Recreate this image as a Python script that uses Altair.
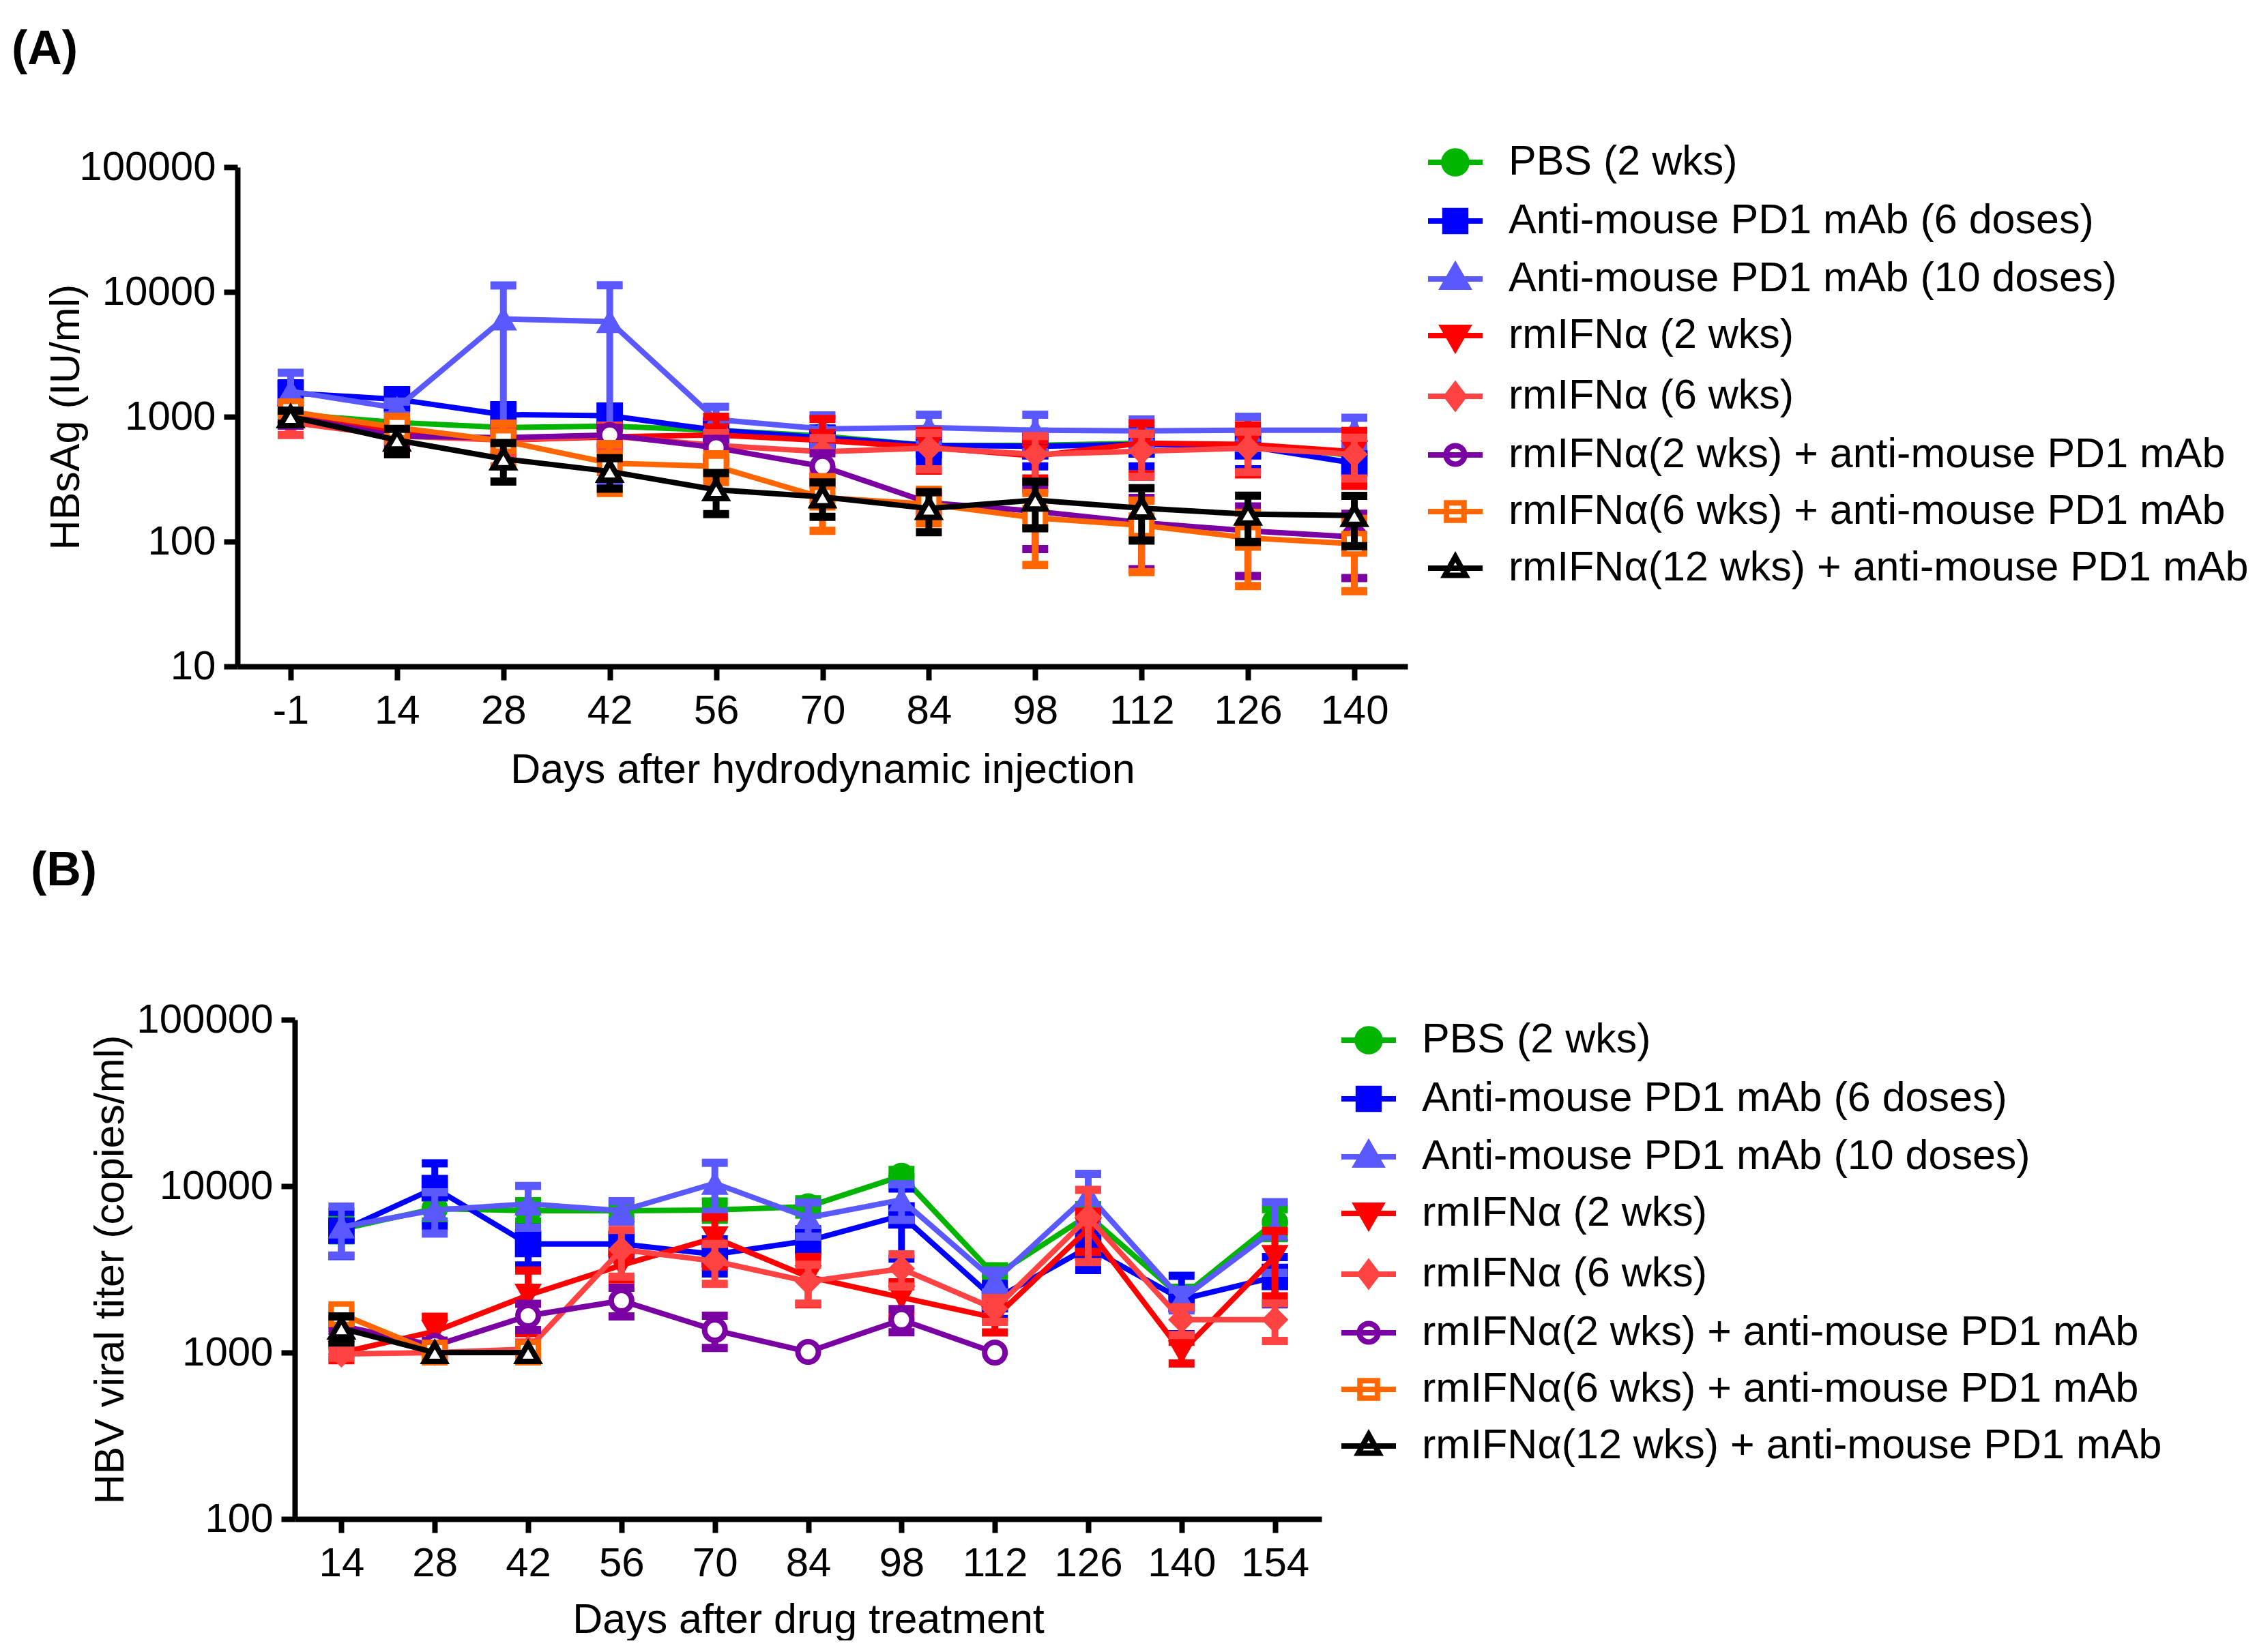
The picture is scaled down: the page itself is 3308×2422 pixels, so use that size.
import altair as alt
import pandas as pd

FONT = "Liberation Sans"

GROUPS = [
    "PBS (2 wks)",
    "Anti-mouse PD1 mAb (6 doses)",
    "Anti-mouse PD1 mAb (10 doses)",
    "rmIFNα (2 wks)",
    "rmIFNα (6 wks)",
    "rmIFNα(2 wks) + anti-mouse PD1 mAb",
    "rmIFNα(6 wks) + anti-mouse PD1 mAb",
    "rmIFNα(12 wks) + anti-mouse PD1 mAb",
]
COLORS = ["#00B400", "#0000FF", "#5959FF", "#FF0000", "#FF4343", "#7A00A3", "#FF6600", "#000000"]
FILLS = ["#00B400", "#0000FF", "#5959FF", "#FF0000", "#FF4343", "#FFFFFF", "#FFFFFF", "#FFFFFF"]
SHAPES = ["circle", "square", "triangle-up", "triangle-down", "diamond", "circle", "square", "triangle-up"]
HOLLOW = [False, False, False, False, False, True, True, True]
LEGEND_PATHS = [
    "M-1,0H1M0.42,0A0.42,0.42,0,1,1,-0.42,0A0.42,0.42,0,1,1,0.42,0Z",
    "M-1,0H1M-0.38,-0.38H0.38V0.38H-0.38Z",
    "M-1,0H1M0,-0.48L0.45,0.3H-0.45Z",
    "M-1,0H1M0,0.48L0.45,-0.3H-0.45Z",
    "M-1,0H1M0,-0.42L0.32,0L0,0.42L-0.32,0Z",
    "M-1,0H1M0.34,0A0.34,0.34,0,1,1,-0.34,0A0.34,0.34,0,1,1,0.34,0Z",
    "M-1,0H1M-0.32,-0.32H0.32V0.32H-0.32Z",
    "M-1,0H1M0,-0.42L0.38,0.26H-0.38Z",
]

# ---------------- Panel A: HBsAg (IU/ml) ----------------
DAYS_A = [-1, 14, 28, 42, 56, 70, 84, 98, 112, 126, 140]
A_PBS = [1050, 900, 820, 840, 780, 700, 590, 590, 615, 590, 490]
A_PBS_SEM = [150, 80, 80, 80, 80, 80, 60, 60, 60, 60, 60]
A_PD1_6 = [1550, 1380, 1040, 1020, 780, 680, 590, 580, 600, 580, 425]
A_PD1_6_SEM = [300, 185, 200, 180, 120, 100, 150, 180, 200, 200, 125]
A_PD1_10 = [1600, 1175, 6080, 5790, 950, 800, 820, 780, 770, 780, 780]
A_PD1_10_SEM = [650, 150, 5200, 5500, 250, 225, 220, 260, 180, 220, 200]
A_IFN2 = [1000, 750, 650, 690, 715, 645, 570, 485, 615, 600, 525]
A_IFN2_SEM = [150, 150, 150, 120, 285, 315, 200, 165, 270, 255, 245]
A_IFN6 = [900, 700, 650, 700, 590, 525, 560, 500, 530, 560, 500]
A_IFN6_SEM = [185, 200, 150, 150, 150, 150, 180, 200, 200, 200, 180]
A_IFN2_PD1 = [1000, 700, 680, 715, 565, 400, 205, 175, 142, 122, 109]
A_IFN2_PD1_SEM = [150, 100, 80, 100, 100, 110, 40, 88, 82, 69, 58]
A_IFN6_PD1 = [1100, 820, 640, 425, 400, 225, 200, 155, 135, 107, 96]
A_IFN6_PD1_SEM = [200, 180, 240, 180, 100, 103, 60, 90, 78, 63, 56]
A_IFN12_PD1 = [1000, 650, 460, 365, 260, 228, 184, 215, 185, 166, 162]
A_IFN12_PD1_SEM = [120, 150, 157, 100, 94, 70, 65, 87, 83, 67, 70]

# ---------------- Panel B: HBV viral titer (copies/ml) ----------------
DAYS_B = [14, 28, 42, 56, 70, 84, 98, 112, 126, 140, 154]
B_PBS = [5520, 7330, 7120, 7120, 7190, 7540, 11500, 2900, 6670, 2150, 6070]
B_PBS_SEM = [800, 1200, 1000, 800, 900, 800, 1000, 400, 1000, 300, 1200]
B_PD1_6 = [5400, 9730, 4490, 4490, 3890, 4700, 6670, 2090, 4280, 2090, 2850]
B_PD1_6_SEM = [1600, 4000, 1150, 800, 900, 800, 3000, 500, 1150, 800, 900]
B_PD1_10 = [5680, 7190, 7820, 7120, 10400, 6470, 8270, 2700, 8850, 2090, 5520]
B_PD1_10_SEM = [1850, 2000, 2200, 1000, 3400, 1500, 2000, 400, 3000, 300, 2500]
B_IFN2 = [1000, 1340, 2210, 3350, 4890, 2850, 2145, 1620, 5520, 1010, 3780]
B_IFN2_SEM = [100, 300, 900, 600, 1600, 900, 500, 300, 1500, 150, 1600]
B_IFN6 = [980, 1000, 1050, 4160, 3540, 2670, 3190, 1830, 6500, 1575, 1575]
B_IFN6_SEM = [50, 50, 100, 1300, 950, 700, 700, 300, 3000, 300, 400]
B_IFN2_PD1 = [1450, 1100, 1665, 2050, 1365, 1010, 1575, 1000, None, None, None]
B_IFN2_PD1_SEM = [100, 80, 300, 400, 300, 0, 250, 0, None, None, None]
B_IFN6_PD1 = [1700, 1000, 1000, None, None, None, None, None, None, None, None]
B_IFN6_PD1_SEM = [150, 50, 50, None, None, None, None, None, None, None, None]
B_IFN12_PD1 = [1400, 1000, 1000, None, None, None, None, None, None, None, None]
B_IFN12_PD1_SEM = [250, 0, 0, None, None, None, None, None, None, None, None]

A_SERIES = [(A_PBS, A_PBS_SEM), (A_PD1_6, A_PD1_6_SEM), (A_PD1_10, A_PD1_10_SEM),
            (A_IFN2, A_IFN2_SEM), (A_IFN6, A_IFN6_SEM), (A_IFN2_PD1, A_IFN2_PD1_SEM),
            (A_IFN6_PD1, A_IFN6_PD1_SEM), (A_IFN12_PD1, A_IFN12_PD1_SEM)]
B_SERIES = [(B_PBS, B_PBS_SEM), (B_PD1_6, B_PD1_6_SEM), (B_PD1_10, B_PD1_10_SEM),
            (B_IFN2, B_IFN2_SEM), (B_IFN6, B_IFN6_SEM), (B_IFN2_PD1, B_IFN2_PD1_SEM),
            (B_IFN6_PD1, B_IFN6_PD1_SEM), (B_IFN12_PD1, B_IFN12_PD1_SEM)]


def long_table(days, series):
    rows = []
    for gi, (means, sems) in enumerate(series):
        for d, m, s in zip(days, means, sems):
            if m is None:
                continue
            rows.append({"group": GROUPS[gi], "gi": gi, "day": d, "mean": m,
                         "sem": s, "lo": m - s, "hi": m + s})
    return pd.DataFrame(rows)


def panel(df, days, ydomain, yticks, width, height, ytitle, xtitle, label,
          title_dx, title_offset, legend_x, legend_y, ytitle_pad, xlabel_pad, xtitle_pad,
          left_shift):
    xaxis = alt.Axis(title=xtitle, labelAngle=0, labelFontSize=60, titleFontSize=61,
                     tickSize=20, tickWidth=8, domainWidth=8, labelPadding=xlabel_pad,
                     titlePadding=xtitle_pad, titleFontWeight="normal", labelColor="black",
                     titleColor="black", domainColor="black", tickColor="black", grid=False,
                     labelLimit=500)
    yaxis = alt.Axis(title=ytitle, values=yticks, format="d", labelFontSize=60,
                     titleFontSize=61, tickSize=20, tickWidth=8, domainWidth=8,
                     labelPadding=12, titlePadding=ytitle_pad, titleFontWeight="normal",
                     labelColor="black", titleColor="black", domainColor="black",
                     tickColor="black", grid=False, labelLimit=500, offset=-left_shift)
    total_w = width + left_shift
    xs = alt.Scale(type="point", padding=0.5, domain=days, range=[left_shift, total_w])
    ys = alt.Scale(type="log", domain=ydomain)
    X = alt.X("day:O", scale=xs, axis=xaxis, sort=days)

    base = alt.Chart(df)
    layers = []
    for gi in range(len(GROUPS)):
        sub = base.transform_filter(alt.datum.gi == gi)
        err = sub.transform_filter(alt.datum.sem > 0)
        stem = err.mark_rule(strokeWidth=10, color=COLORS[gi]).encode(
            x=X, y=alt.Y("lo:Q", scale=ys, axis=yaxis), y2="hi:Q")
        caps = err.transform_fold(["lo", "hi"], as_=["end", "val"]).mark_tick(
            color=COLORS[gi], thickness=12, size=38, opacity=1).encode(
            x=X, y=alt.Y("val:Q", scale=ys, axis=yaxis))
        line = sub.mark_line(strokeWidth=8, color=COLORS[gi]).encode(
            x=X, y=alt.Y("mean:Q", scale=ys, axis=yaxis))
        if HOLLOW[gi]:
            pt = sub.mark_point(shape=SHAPES[gi], filled=True, fill="white", stroke=COLORS[gi],
                                strokeWidth=8, size=900, opacity=1)
        else:
            pt = sub.mark_point(shape=SHAPES[gi], filled=True, fill=COLORS[gi], stroke=COLORS[gi],
                                strokeWidth=2, size=1350, opacity=1)
        pts = pt.encode(x=X, y=alt.Y("mean:Q", scale=ys, axis=yaxis))
        layers += [stem, caps, line, pts]

    leg = alt.Legend(title=None, orient="none", legendX=legend_x + left_shift, legendY=legend_y,
                     labelFontSize=61, labelFont=FONT, labelColor="black", labelLimit=0,
                     symbolSize=6400, symbolStrokeWidth=8, labelOffset=34, rowPadding=9,
                     padding=0, symbolOpacity=1)
    legend_layer = base.transform_filter(alt.datum.gi < 0).mark_point(
        filled=True, size=6400, strokeWidth=8, opacity=1).encode(
        x=X, y=alt.Y("mean:Q", scale=ys, axis=yaxis),
        shape=alt.Shape("group:N", scale=alt.Scale(domain=GROUPS, range=LEGEND_PATHS), legend=leg),
        stroke=alt.Stroke("group:N", scale=alt.Scale(domain=GROUPS, range=COLORS), legend=leg),
        fill=alt.Fill("group:N", scale=alt.Scale(domain=GROUPS, range=FILLS), legend=leg),
    )
    layers.append(legend_layer)

    return alt.layer(*layers).properties(
        width=total_w, height=height,
        title=alt.TitleParams(text=label, anchor="start", frame="group", dx=title_dx,
                              offset=title_offset, fontSize=70, fontWeight="bold",
                              font=FONT, color="black"),
    )


dfA = long_table(DAYS_A, A_SERIES)
dfB = long_table(DAYS_B, B_SERIES)

chartA = panel(dfA, DAYS_A, [10, 100000], [10, 100, 1000, 10000, 100000], 1715, 732,
               "HBsAg (IU/ml)", "Days after hydrodynamic injection", "(A)",
               -331, 85, 1741, -51, 20, 16, 27, 0)
chartB = panel(dfB, DAYS_B, [100, 100000], [100, 1000, 10000, 100000], 1505, 732,
               "HBV viral titer (copies/ml)", "Days after drug treatment", "(B)",
               -303, 152, 1530, -14, 39, 16, 23, 84)

chart = alt.ConcatChart(concat=[chartA, chartB], columns=1, spacing=83).resolve_scale(
    shape="independent", stroke="independent", fill="independent"
).resolve_legend(
    shape="independent", stroke="independent", fill="independent"
).properties(
    padding={"left": 9, "top": 30, "right": 0, "bottom": 0}
).configure(font=FONT).configure_view(stroke=None)

chart.save("out.html", embed_options={"renderer": "svg", "actions": False})
